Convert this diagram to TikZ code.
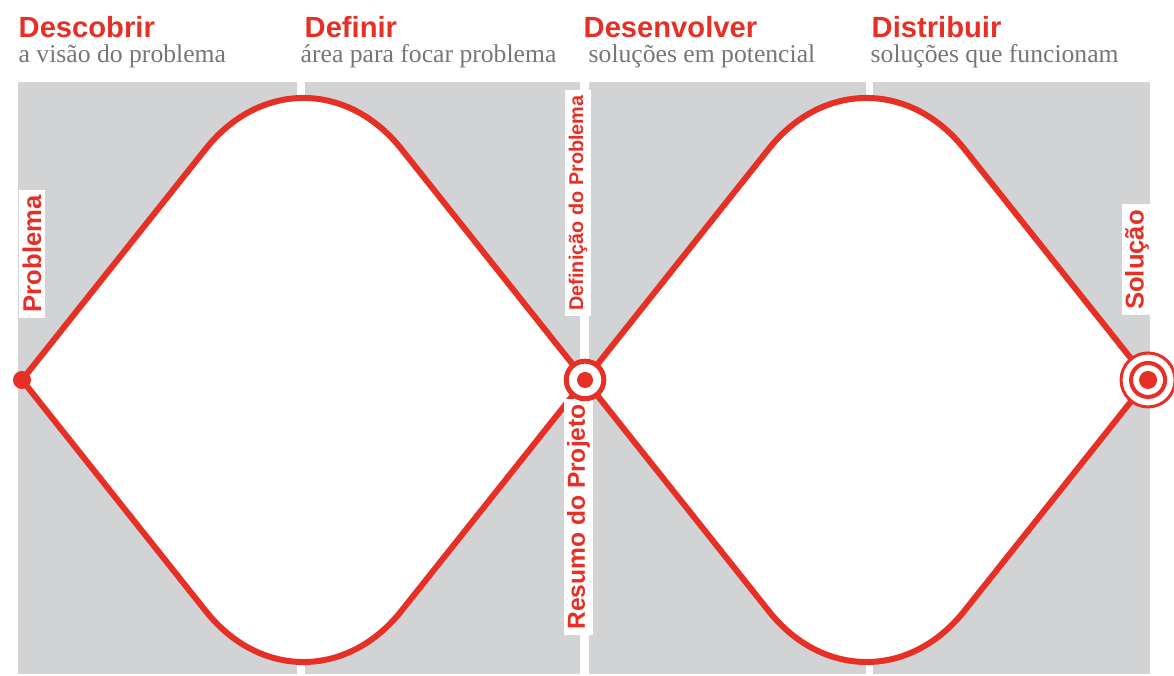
\documentclass[tikz,border=0pt]{standalone}
\usepackage{fontspec}
\setmainfont{Liberation Serif}
\setsansfont{Liberation Sans}

\begin{document}
\begin{tikzpicture}[scale=0.1]

\definecolor{ddred}{RGB}{230,48,38}
\definecolor{ddgrey}{RGB}{209,211,212}
\definecolor{ddtext}{RGB}{118,118,118}

\tikzset{
  phase/.style={anchor=base west, inner sep=0pt, text=ddred, font=\sffamily\bfseries\fontsize{8.3}{10}\selectfont},
  phasenote/.style={anchor=base west, inner sep=0pt, text=ddtext, font=\fontsize{7.3}{8}\selectfont},
  tag/.style={rotate=90, fill=white, text=ddred, inner xsep=1.6pt, inner ysep=1pt, font=\sffamily\bfseries\fontsize{7.3}{8}\selectfont},
  diamondline/.style={draw=ddred, line width=1.7pt, fill=white}
}

\useasboundingbox (0,0) rectangle (117.4,67.6);

% grey columns, the white gaps are left between them
\fill[ddgrey] (1.8,0.2) rectangle (29.7,59.4);
\fill[ddgrey] (30.5,0.2) rectangle (58.0,59.4);
\fill[ddgrey] (58.9,0.2) rectangle (86.6,59.4);
\fill[ddgrey] (87.3,0.2) rectangle (115.0,59.4);

\coordinate (start) at (2.2,29.6);
\coordinate (mid) at (58.5,29.6);
\coordinate (end) at (114.8,29.6);

% the two diamonds: round at top and bottom, sharp at the sides
\draw[diamondline] (start) [rounded corners=1.57cm] -- (30.35,65.0) [sharp corners] -- (mid)
  [rounded corners=1.57cm] -- (30.35,-5.8) [sharp corners] -- cycle;
\draw[diamondline] (mid) [rounded corners=1.57cm] -- (86.65,65.0) [sharp corners] -- (end)
  [rounded corners=1.57cm] -- (86.65,-5.8) [sharp corners] -- cycle;

\node[phase] (discover) at (1.8,63.8) {Descobrir};
\node[phasenote] (discovernote) at (1.8,61.3) {a visão do problema};
\node[phase] (define) at (30.4,63.8) {Definir};
\node[phasenote] (definenote) at (30.0,61.3) {área para focar problema};
\node[phase] (develop) at (58.3,63.8) {Desenvolver};
\node[phasenote] (developnote) at (58.8,61.3) {soluções em potencial};
\node[phase] (deliver) at (87.1,63.8) {Distribuir};
\node[phasenote] (delivernote) at (87.0,61.3) {soluções que funcionam};

\node[tag] (problem) at (3.2,42.2) {Problema};
\node[tag, font=\sffamily\bfseries\fontsize{5.65}{6}\selectfont] (definition) at (57.8,47.3) {Definição do Problema};
\node[tag, font=\sffamily\bfseries\fontsize{7}{8}\selectfont] (brief) at (57.85,15.9) {Resumo do Projeto};
\node[tag] (solution) at (113.7,41.6) {Solução};

% markers
\fill[ddred] (start) circle (0.9);
\draw[ddred, line width=1.42pt, fill=white] (mid) circle (1.88);
\fill[ddred] (mid) circle (0.8);
\draw[ddred, line width=0.85pt, fill=white] (end) circle (2.7);
\draw[ddred, line width=1.15pt] (end) circle (1.7);
\fill[ddred] (end) circle (0.9);

\end{tikzpicture}
\end{document}
